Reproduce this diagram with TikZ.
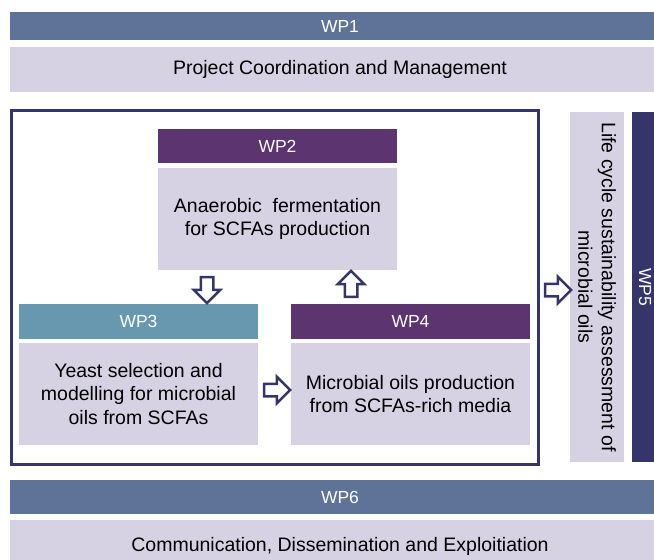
\documentclass[tikz,border=0pt]{standalone}
\usepackage{fontspec}
\setmainfont{Liberation Sans}
\usetikzlibrary{shapes.arrows}

\definecolor{slate}{HTML}{5F7398}
\definecolor{lav}{HTML}{D6D2E3}
\definecolor{plum}{HTML}{5B3470}
\definecolor{teal}{HTML}{6898AF}
\definecolor{navy}{HTML}{35356B}

\begin{document}
\begin{tikzpicture}[x=1pt, y=-1pt, line join=miter]
  \useasboundingbox (0,0) rectangle (654,560);
  \clip (0,0) rectangle (654,560);
  \tikzset{
    hdr/.style={rectangle, inner sep=0pt, text=white, font=\fontsize{17.5}{21}\selectfont},
    body/.style={rectangle, inner sep=0pt, fill=lav, text=black, align=center,
                 font=\fontsize{19.5}{23.5}\selectfont},
    frame/.style={rectangle, draw=navy, line width=3pt, inner sep=0pt},
    hollow/.style={single arrow, draw=navy, fill=white, line width=2.5pt,
                   inner sep=5pt, single arrow head extend=7pt, minimum height=26pt}
  }

  % --- WP1 (top band)
  \node[hdr, fill=slate, minimum width=660, minimum height=28] (wp1h) at (340,26) {WP1};
  \node[body, minimum width=660, minimum height=45] (wp1b) at (340,69.5) {Project Coordination and Management};

  % --- core frame holding WP2, WP3, WP4
  \node[frame, minimum width=527, minimum height=354] (core) at (274.5,287) {};

  \node[hdr, fill=plum, minimum width=239, minimum height=34] (wp2h) at (277.5,146) {WP2};
  \node[body, minimum width=239, minimum height=102] (wp2b) at (277.5,219)
    {Anaerobic~ fermentation\\for SCFAs production};

  \node[hdr, fill=teal, minimum width=239, minimum height=35] (wp3h) at (138.5,321.5) {WP3};
  \node[body, minimum width=239, minimum height=102] (wp3b) at (138.5,394)
    {Yeast selection and\\modelling for microbial\\oils from SCFAs};

  \node[hdr, fill=plum, minimum width=239, minimum height=35] (wp4h) at (410.5,321.5) {WP4};
  \node[body, minimum width=239, minimum height=102] (wp4b) at (410.5,394)
    {Microbial oils production\\from SCFAs-rich media};

  % --- WP5 (vertical, right side)
  \node[body, rotate=-90, minimum width=350, minimum height=54] (wp5b) at (597,287)
    {Life cycle sustainability assessment of\\microbial oils};
  \node[hdr, fill=navy, rotate=-90, minimum width=350, minimum height=26] (wp5h) at (645,287) {WP5};

  % --- WP6 (bottom band)
  \node[hdr, fill=slate, minimum width=660, minimum height=34] (wp6h) at (340,497) {WP6};
  \node[body, minimum width=660, minimum height=52] (wp6b) at (340,546)
    {Communication, Dissemination and Exploitiation};

  % --- hollow block arrows
  \node[hollow, shape border rotate=270] (a23) at (207,287) {};
  \node[hollow, shape border rotate=90]  (a42) at (351,287) {};
  \node[hollow, shape border rotate=0]   (a34) at (274,390) {};
  \node[hollow, shape border rotate=0]   (a45) at (555,290) {};

\end{tikzpicture}
\end{document}
